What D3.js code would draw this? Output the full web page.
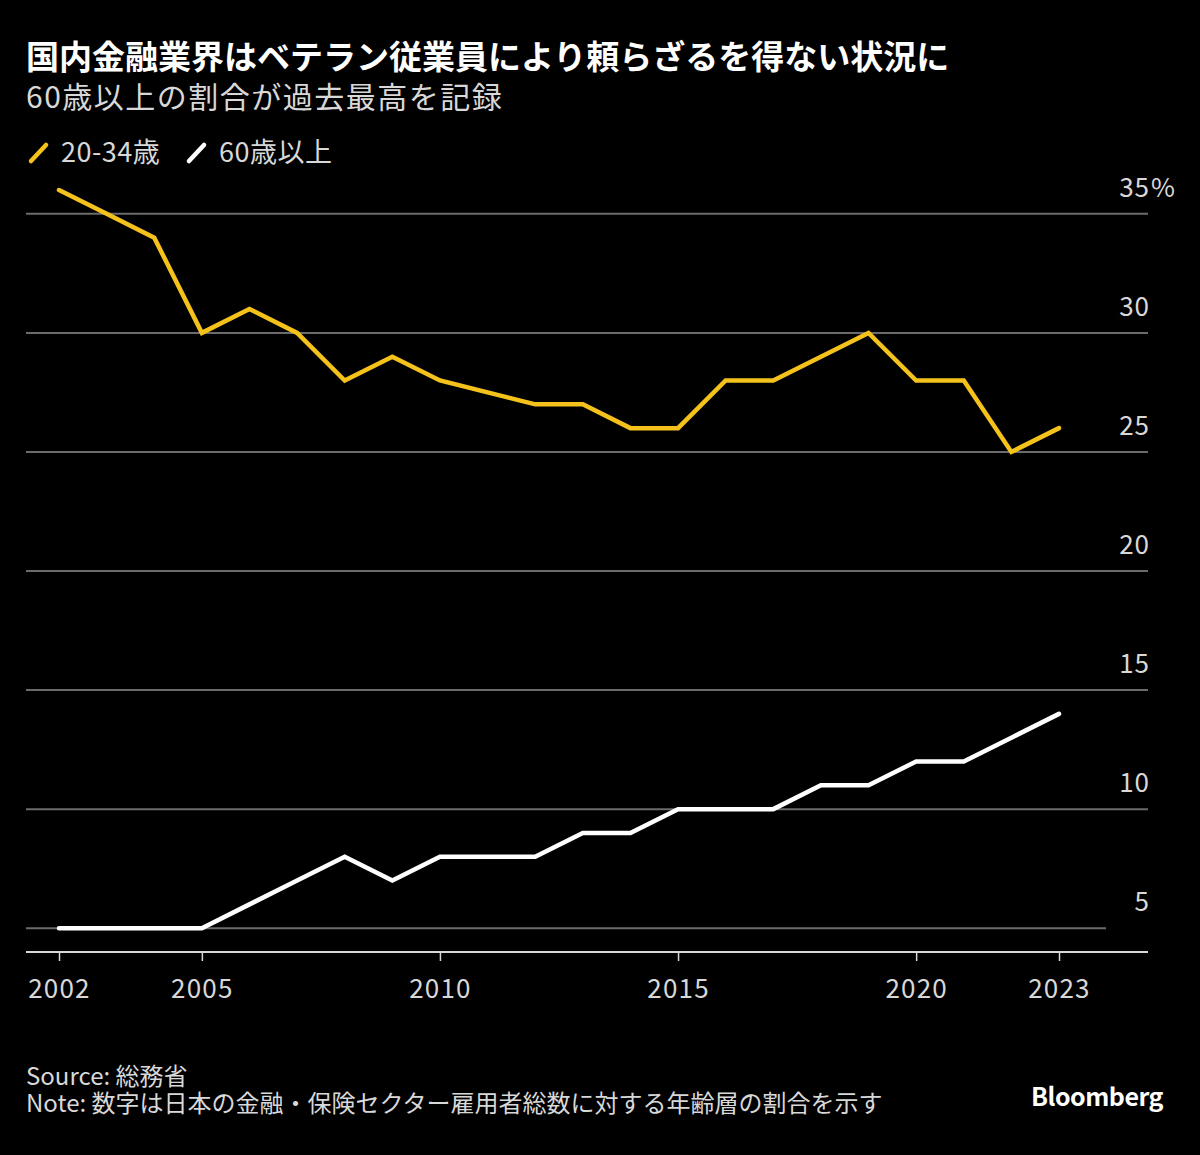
<!DOCTYPE html>
<html>
<head>
<meta charset="utf-8">
<script src="https://cdn.jsdelivr.net/npm/d3@7"></script>
<style>
body { margin: 0; background: #000; }
text { font-family: "Noto Sans CJK JP", "Noto Sans", sans-serif; }
</style>
</head>
<body>
<svg id="chart" width="1200" height="1155"></svg>
<script>
// データ
var years = [2002, 2003, 2004, 2005, 2006, 2007, 2008, 2009, 2010, 2011, 2012,
             2013, 2014, 2015, 2016, 2017, 2018, 2019, 2020, 2021, 2022, 2023];
var young = [36, 35, 34, 30, 31, 30, 28, 29, 28, 27.5, 27,
             27, 26, 26, 28, 28, 29, 30, 28, 28, 25, 26];
var senior = [5, 5, 5, 5, 6, 7, 8, 7, 8, 8, 8,
              9, 9, 10, 10, 10, 11, 11, 12, 12, 13, 14];
var yTicks = [5, 10, 15, 20, 25, 30, 35];
var xTicks = [2002, 2005, 2010, 2015, 2020, 2023];
var seriesNames = ["20-34歳", "60歳以上"];
var colors = ["#f5c21b", "#ffffff"];

var svg = d3.select("#chart");
svg.append("rect").attr("width", 1200).attr("height", 1155).attr("fill", "#000");

var x = d3.scaleLinear().domain([2002, 2023]).range([59, 1059]);
var y = d3.scaleLinear().domain([4, 36]).range([952, 190]);

// タイトル
svg.append("text").attr("x", 26).attr("y", 69)
    .attr("fill", "#fff").attr("font-size", 33).attr("font-weight", "bold")
    .text("国内金融業界はベテラン従業員により頼らざるを得ない状況に");
svg.append("text").attr("x", 26).attr("y", 108)
    .attr("fill", "#d8d8d8").attr("font-size", 30).attr("letter-spacing", 1.5)
    .text("60歳以上の割合が過去最高を記録");

// 凡例
var lx = [28, 186];
seriesNames.forEach(function(name, i) {
    svg.append("line")
        .attr("x1", lx[i] + 3).attr("y1", 161).attr("x2", lx[i] + 18).attr("y2", 145)
        .attr("stroke", colors[i]).attr("stroke-width", 4.5).attr("stroke-linecap", "round");
    svg.append("text").attr("x", lx[i] + 33).attr("y", 162)
        .attr("fill", "#d8d8d8").attr("font-size", 27).attr("letter-spacing", 0.5)
        .text(name);
});

// グリッド
yTicks.forEach(function(t) {
    svg.append("line")
        .attr("x1", 26).attr("x2", t == 5 ? 1106 : 1148)
        .attr("y1", y(t)).attr("y2", y(t))
        .attr("stroke", "#6b6b6b").attr("stroke-width", 2);
    svg.append("text").attr("x", 1150).attr("y", y(t) - 17)
        .attr("fill", "#d8d8d8").attr("font-size", 26).attr("letter-spacing", 1)
        .attr("text-anchor", "end")
        .text(t);
});
svg.append("text").attr("x", 1151).attr("y", y(35) - 17)
    .attr("fill", "#d8d8d8").attr("font-size", 26)
    .text("%");

// x軸
var xAxis = d3.axisBottom(x).tickValues(xTicks).tickFormat(d3.format("d"))
    .tickSize(9).tickSizeOuter(0);
var gx = svg.append("g").attr("transform", "translate(0," + y(4) + ")").call(xAxis);
gx.select(".domain").remove();
gx.selectAll(".tick line").attr("stroke", "#d8d8d8").attr("stroke-width", 1.5);
gx.selectAll(".tick text").attr("fill", "#d8d8d8").attr("font-size", 26)
    .attr("letter-spacing", 1.2)
    .attr("font-family", "\"Noto Sans CJK JP\", sans-serif").attr("y", 46).attr("dy", null);
svg.append("line").attr("x1", 26).attr("x2", 1148).attr("y1", y(4)).attr("y2", y(4))
    .attr("stroke", "#d8d8d8").attr("stroke-width", 2);

// 折れ線
var line = d3.line().x(function(d) { return x(d[0]); }).y(function(d) { return y(d[1]); });
[young, senior].forEach(function(vals, i) {
    svg.append("path")
        .datum(years.map(function(yr, j) { return [yr, vals[j]]; }))
        .attr("d", line)
        .attr("fill", "none").attr("stroke", colors[i]).attr("stroke-width", 4.5)
        .attr("stroke-linejoin", "miter").attr("stroke-linecap", "round");
});

// 注記
svg.append("text").attr("x", 26).attr("y", 1085)
    .attr("fill", "#d8d8d8").attr("font-size", 24)
    .text("Source: 総務省");
svg.append("text").attr("x", 26).attr("y", 1112)
    .attr("fill", "#d8d8d8").attr("font-size", 24)
    .text("Note: 数字は日本の金融・保険セクター雇用者総数に対する年齢層の割合を示す");
svg.append("text").attr("x", 1163).attr("y", 1106)
    .attr("fill", "#fff").attr("font-size", 25).attr("font-weight", "bold")
    .attr("text-anchor", "end").attr("letter-spacing", -0.5)
    .attr("font-family", "Roboto, sans-serif")
    .text("Bloomberg");
</script>
</body>
</html>
